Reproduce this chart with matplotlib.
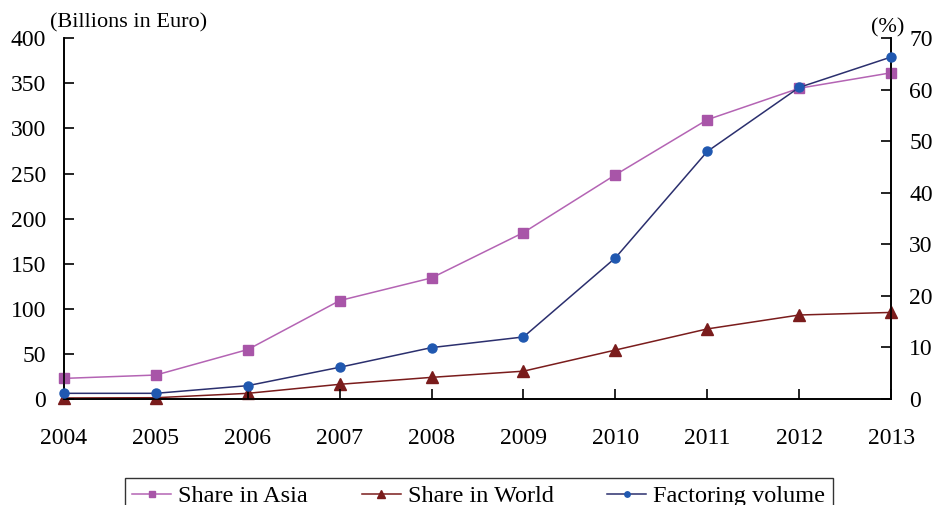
import matplotlib.pyplot as plt

plt.rcParams['font.family'] = ['Liberation Serif', 'DejaVu Serif']

years = [2004, 2005, 2006, 2007, 2008, 2009, 2010, 2011, 2012, 2013]
# left axis: billions in euro
factoring_volume = [6.3, 6.3, 14.8, 35.2, 57, 68.8, 156.5, 274.5, 345.5, 379.2]
# right axis: percent
share_asia = [4.0, 4.65, 9.6, 19.1, 23.5, 32.3, 43.5, 54.2, 60.3, 63.3]
share_world = [0.2, 0.25, 1.1, 2.85, 4.2, 5.4, 9.5, 13.6, 16.3, 16.8]

fig = plt.figure(figsize=(9.36, 5.05), dpi=100)
ax = fig.add_axes([0.0684, 0.2099, 0.8836, 0.7143])
ax2 = ax.twinx()

l1, = ax2.plot(years, share_asia, color='#B464B4', lw=1.1, marker='s', ms=6.5,
               mfc='#A855A8', mec='#A855A8', clip_on=False, zorder=3)
l2, = ax2.plot(years, share_world, color='#7A1C1C', lw=1.1, marker='^', ms=8.5,
               mfc='#7A1C1C', mec='#7A1C1C', clip_on=False, zorder=3)
l3, = ax.plot(years, factoring_volume, color='#2B2F6E', lw=1.1, marker='o', ms=6.5,
              mfc='#2058B0', mec='#2058B0', clip_on=False, zorder=3)
ax.set_zorder(ax2.get_zorder() + 1)
ax.patch.set_visible(False)

ax.set_xlim(2004, 2013)
ax.set_ylim(0, 400)
ax2.set_ylim(0, 70)
ax.set_xticks(years)
ax.set_yticks(range(0, 401, 50))
ax2.set_yticks(range(0, 71, 10))

for a in (ax, ax2):
    a.spines['top'].set_visible(False)
    for s in a.spines.values():
        s.set_linewidth(1.2)
    a.tick_params(direction='in', length=7, width=1.2, labelsize=17)
ax.tick_params(axis='x', pad=21)
ax.tick_params(axis='y', pad=13)
ax2.tick_params(axis='y', pad=13)

fig.text(0.053, 0.955, '(Billions in Euro)', fontsize=16, ha='left', va='center')
fig.text(0.948, 0.945, '(%)', fontsize=16, ha='center', va='center')

leg = fig.legend([l1, l2, l3], ['Share in Asia', 'Share in World', 'Factoring volume'],
                 loc='upper left', bbox_to_anchor=(0.1335, 0.0535), ncol=3, fontsize=17.5,
                 frameon=True, fancybox=False, edgecolor='black', handlelength=1.6,
                 columnspacing=2.2, handletextpad=0.3, borderpad=0.3, borderaxespad=0,
                 markerscale=0.6)
leg.get_frame().set_linewidth(1.0)

fig.savefig('out.png', dpi=100)
